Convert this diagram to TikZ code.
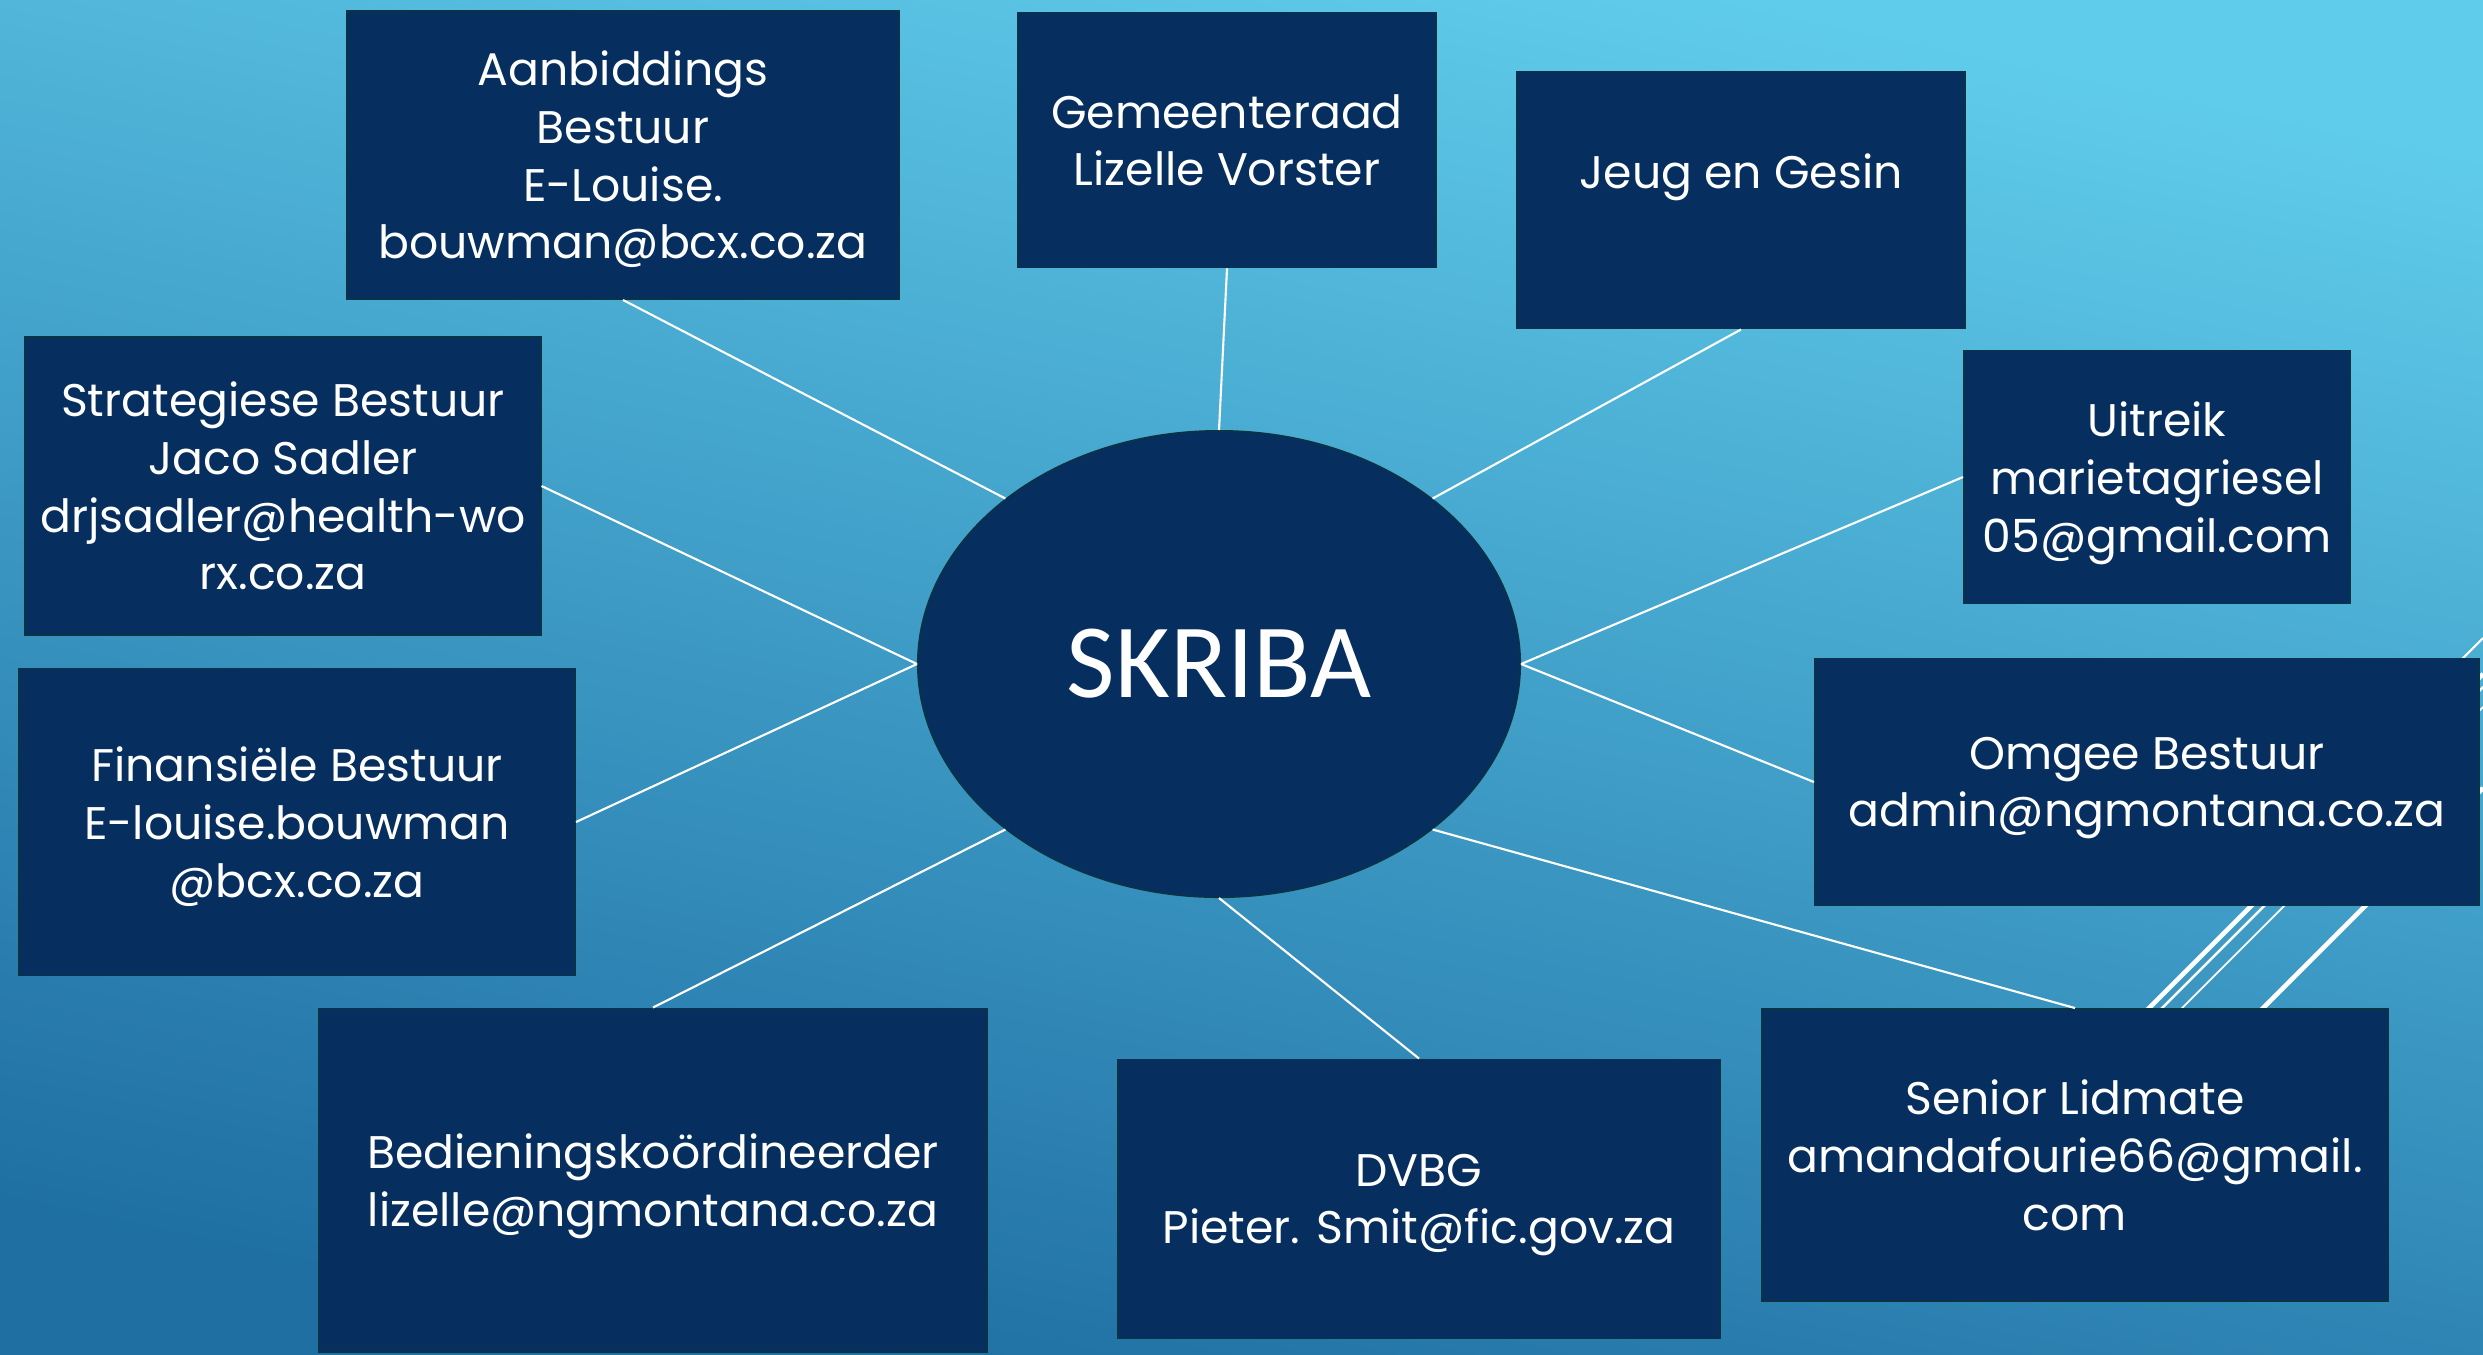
\documentclass[tikz,border=0pt]{standalone}
\usepackage{fontspec}
\setmainfont{Poppins}
\newfontfamily\skribafont{Carlito}
\usepackage{tikz}
\usetikzlibrary{shapes.geometric}

\definecolor{bgtop}{HTML}{60CCEB}
\definecolor{bgbot}{HTML}{1F6FA3}
\definecolor{navy}{HTML}{062F5F}
\definecolor{edge}{HTML}{0A3346}

\begin{document}
\begin{tikzpicture}[x=0.01cm,y=-0.01cm,
  box/.style={rectangle,fill=navy,draw=edge,line width=0.5pt,text=white,align=center,inner sep=0pt,
    font=\fontsize{13}{16.4}\selectfont,text depth=0pt},
  link/.style={white,line width=0.6pt}]

\shade[top color=bgtop,bottom color=bgbot,shading angle=-12] (0,0) rectangle (2483,1354);
\useasboundingbox (0,0) rectangle (2483,1354);

\draw[white,line width=1.3pt] (2057,1100)--(2483,674);
\draw[white,line width=0.7pt] (2070,1100)--(2483,687);
\draw[white,line width=0.5pt] (2090,1100)--(2483,707);
\draw[white,line width=1.3pt] (2171,1100)--(2483,788);
\draw[white,line width=0.6pt] (2380,741)--(2483,638);


\node[box,minimum width=5.52cm,minimum height=2.88cm] (aanb) at (623,155) {Aanbiddings\\Bestuur\\E-Louise.\\bouwman@bcx.co.za};
\node[box,minimum width=4.18cm,minimum height=2.55cm] (raad) at (1227,140) {Gemeenteraad\\Lizelle Vorster};
\node[box,minimum width=4.48cm,minimum height=2.57cm] (jeug) at (1741,200) {Jeug en Gesin\\\mbox{}};
\node[box,minimum width=3.86cm,minimum height=2.53cm] (uitreik) at (2157,477) {Uitreik\\marietagriesel\\05@gmail.com};
\node[box,minimum width=5.15cm,minimum height=2.98cm] (strat) at (283,486) {Strategiese Bestuur\\Jaco Sadler\\drjsadler@health-wo\\rx.co.za};
\node[box,minimum width=5.56cm,minimum height=3.07cm] (fin) at (297,822) {Finansiële Bestuur\\E-louise.bouwman\\@bcx.co.za};
\node[box,minimum width=6.64cm,minimum height=2.47cm] (omgee) at (2147,782) {Omgee Bestuur\\admin@ngmontana.co.za};
\node[box,minimum width=6.67cm,minimum height=3.43cm] (bed) at (653,1180) {Bedieningskoördineerder\\lizelle@ngmontana.co.za};
\node[box,minimum width=6.02cm,minimum height=2.79cm] (dvbg) at (1419,1199) {DVBG\\Pieter. Smit@fic.gov.za};
\node[box,minimum width=6.26cm,minimum height=2.92cm] (senior) at (2075,1155) {Senior Lidmate\\amandafourie66@gmail.\\com};

\node[ellipse,fill=navy,draw=edge,line width=0.5pt,inner sep=0pt,minimum width=6.02cm,minimum height=4.66cm,
  text=white,font=\skribafont\fontsize{30}{36}\selectfont] (skriba) at (1219,664) {SKRIBA};


\draw[link] (skriba.north west)--(aanb.south);
\draw[link] (skriba.north)--(raad.south);
\draw[link] (skriba.north east)--(jeug.south);
\draw[link] (skriba.east)--(uitreik.west);
\draw[link] (skriba.west)--(strat.east);
\draw[link] (skriba.west)--(fin.east);
\draw[link] (skriba.east)--(omgee.west);
\draw[link] (skriba.south west)--(bed.north);
\draw[link] (skriba.south)--(dvbg.north);
\draw[link] (skriba.south east)--(senior.north);

\end{tikzpicture}
\end{document}
